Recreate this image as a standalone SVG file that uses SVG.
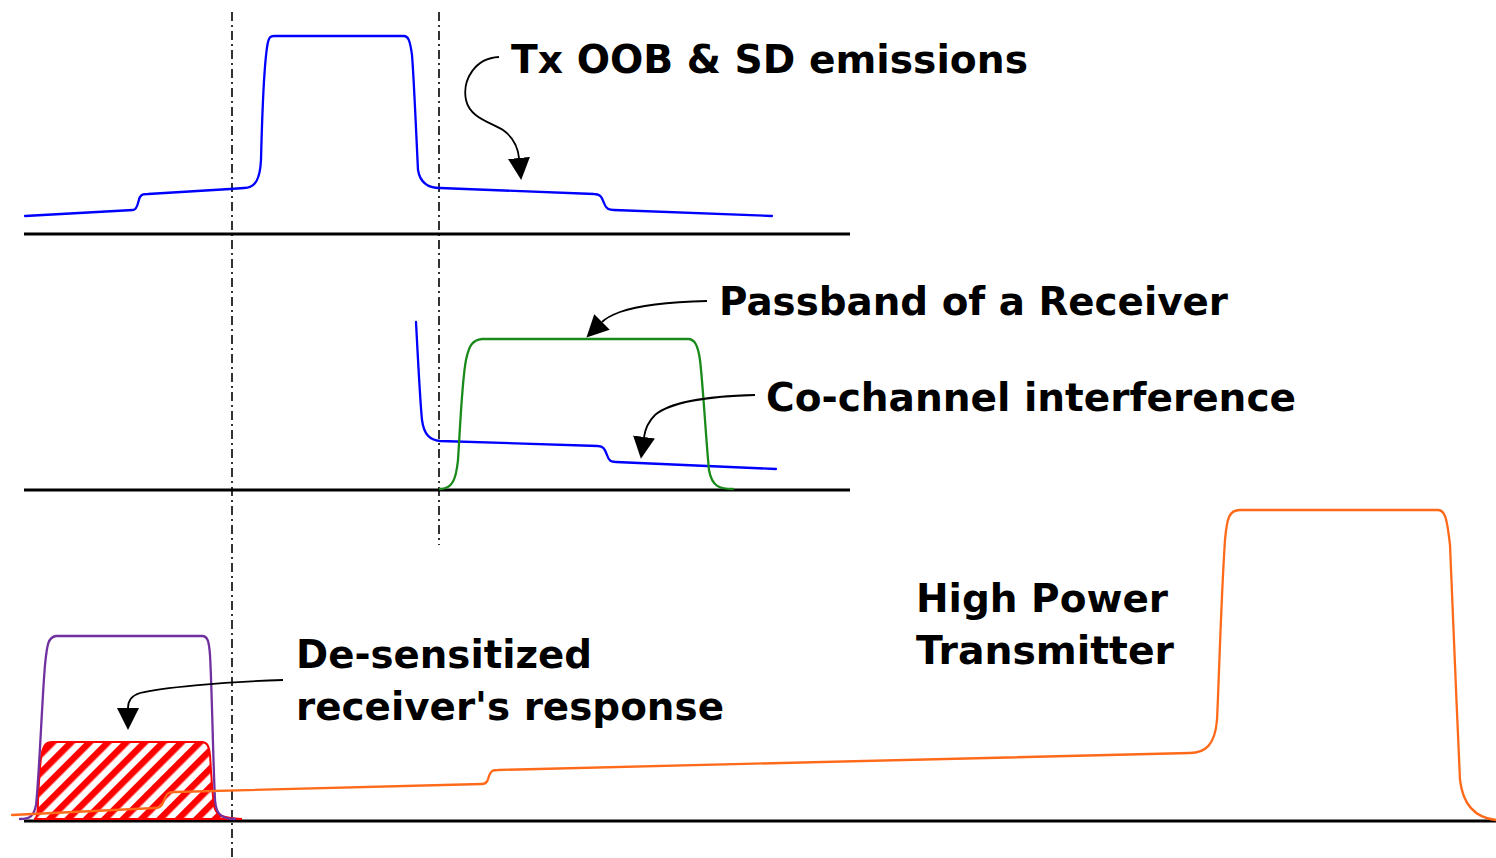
<svg xmlns="http://www.w3.org/2000/svg" width="1496" height="858" viewBox="0 0 1496 858">
<style>
.base{stroke:#000;stroke-width:3;fill:none}
.guide{stroke:#000;stroke-width:1.6;stroke-dasharray:9 4 2 4;fill:none}
.curve{fill:none;stroke-width:2.3;stroke-linejoin:round;stroke-linecap:round}
.lbl{font-family:"DejaVu Sans","Verdana",sans-serif;font-weight:bold;font-size:39px;fill:#000}
.conn{fill:none;stroke:#000;stroke-width:1.8}
</style>
<defs>
<marker id="ah" viewBox="0 0 10 10" refX="0" refY="5" markerUnits="userSpaceOnUse" markerWidth="22" markerHeight="22" orient="auto" preserveAspectRatio="none">
<path d="M0,0 L10,5 L0,10 z" fill="#000"/>
</marker>
<pattern id="hatch" width="13" height="13" patternUnits="userSpaceOnUse" patternTransform="rotate(45)">
<rect x="0" y="0" width="6.5" height="13" fill="#ff0000"/>
</pattern>
</defs>
<rect width="1496" height="858" fill="#fff"/>
<g id="axes">
<line class="base" x1="24" y1="234" x2="850" y2="234"/>
<line class="base" x1="24" y1="490" x2="850" y2="490"/>
<line class="base" x1="24" y1="821" x2="1496" y2="821"/>
<line class="guide" x1="232" y1="12" x2="232" y2="858"/>
<line class="guide" x1="439" y1="12" x2="439" y2="545"/>
</g>
<g id="tx-spectrum">
<path class="curve" stroke="#0000ff" d="M25,216 L133,210 C138,210 138,200 140,197 C142,194 144,194 148,194 L230,189 L244,188 C256,188 260,178 261,160 C262,120 264,60 268,42 C269,38 270,36 274,36 L404,36 C408,36 410,40 412,55 C414,80 416,130 418,170 C420,182 428,188 440,188 L594,194 C601,194 602,198 604,203 C606,209 609,210 614,210 L772,216"/>
</g>
<g id="cochannel">
<path class="curve" stroke="#0000ff" d="M416,322 C418,360 420,400 422,420 C424,435 430,440 440,441 L598,446 C604,446 605,450 607,455 C609,461 611,462 616,462 L776,469"/>
</g>
<g id="passband">
<path class="curve" stroke="#1a8a1a" d="M440,489 C452,489 456,480 458,460 C460,430 462,380 466,360 C469,346 472,340 482,339 L688,339 C695,339 698,346 700,360 C703,385 706,440 709,470 C712,487 720,489 733,489"/>
</g>
<g id="desensitized">
<path fill="url(#hatch)" stroke="#ff0000" stroke-width="2" d="M34,819 C37,819 38,812 38,800 C39,780 40,760 42,752 C44,745 46,742 52,742 L202,742 C207,742 209,746 210,755 C211,770 212,790 214,805 C215,815 222,818 242,819 L34,819 Z"/>
</g>
<g id="receiver">
<path class="curve" stroke="#7030a0" d="M20,819 C30,819 34,816 36,805 C39,780 42,700 45,665 C47,645 48,637 56,636 L202,636 C208,636 209,642 210,655 C212,690 213,760 215,800 C216,815 222,819 235,819"/>
</g>
<g id="high-power-tx">
<path class="curve" stroke="#ff6a1a" d="M12,815 L155,808 C162,808 163,803 165,798 C167,793 169,792 175,792 L482,784 C487,784 488,780 489,776 C491,771 492,770 498,770 L1190,753 C1205,753 1215,745 1217,720 C1219,680 1221,600 1225,540 C1227,518 1229,510 1240,510 L1438,510 C1445,510 1447,518 1450,545 C1453,600 1456,700 1460,780 C1463,805 1476,818 1496,820"/>
</g>
<g id="connectors">
<path class="conn" marker-end="url(#ah)" d="M499,57 C475,58 462,80 466,100 C470,118 490,122 503,130 C513,137 518,148 519,158"/>
<path class="conn" marker-end="url(#ah)" d="M707,301 C670,302 640,305 620,312 C612,315 606,318 602,322"/>
<path class="conn" marker-end="url(#ah)" d="M755,395 C710,396 670,402 655,415 C648,422 645,430 644,437"/>
<path class="conn" marker-end="url(#ah)" d="M283,680 C220,682 160,688 140,693 C130,696 128,702 128,708"/>
</g>
<g id="labels">
<text class="lbl" x="511" y="73" textLength="517" lengthAdjust="spacingAndGlyphs">Tx OOB &amp; SD emissions</text>
<text class="lbl" x="719" y="315" textLength="509" lengthAdjust="spacingAndGlyphs">Passband of a Receiver</text>
<text class="lbl" x="766" y="411" textLength="530" lengthAdjust="spacingAndGlyphs">Co-channel interference</text>
<text class="lbl" x="916" y="612" textLength="252" lengthAdjust="spacingAndGlyphs">High Power</text>
<text class="lbl" x="916" y="664" textLength="258" lengthAdjust="spacingAndGlyphs">Transmitter</text>
<text class="lbl" x="296" y="668" textLength="296" lengthAdjust="spacingAndGlyphs">De-sensitized</text>
<text class="lbl" x="296" y="720" textLength="428" lengthAdjust="spacingAndGlyphs">receiver's response</text>
</g>
</svg>
